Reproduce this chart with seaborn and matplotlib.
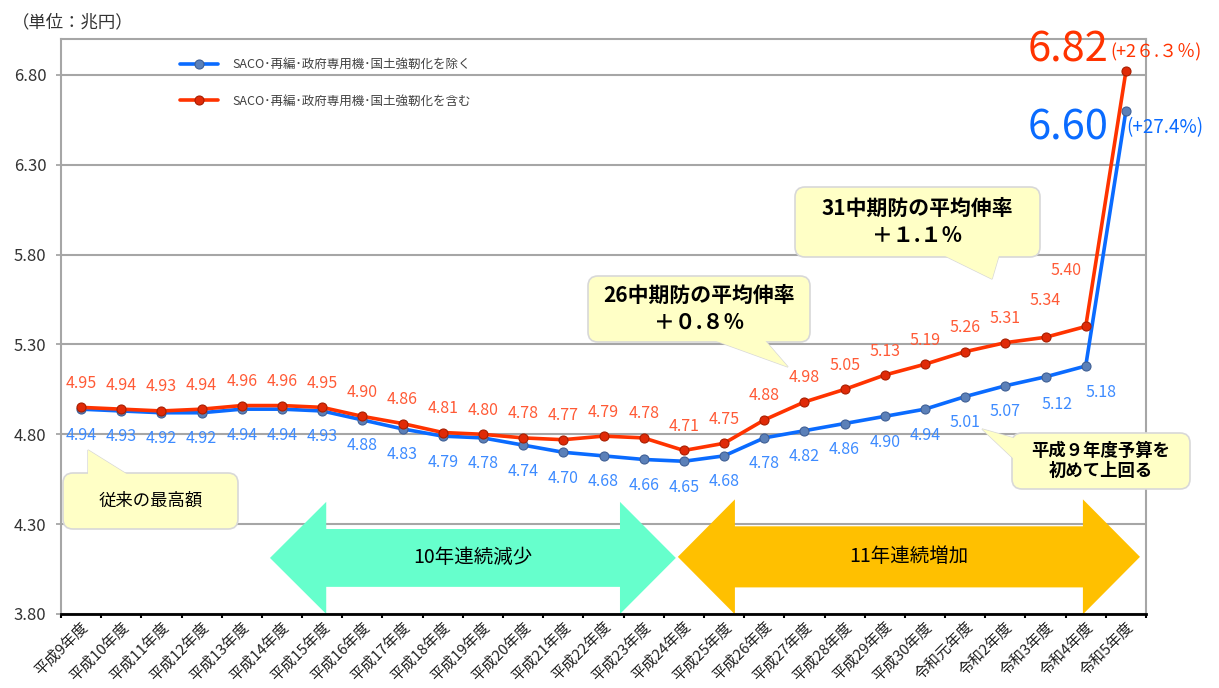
import matplotlib
matplotlib.use('Agg')
import matplotlib.pyplot as plt
from matplotlib.patches import FancyBboxPatch, Polygon
from matplotlib.transforms import IdentityTransform
import seaborn as sns
import pandas as pd
import numpy as np

# data (兆円)
years = ['平成9年度', '平成10年度', '平成11年度', '平成12年度', '平成13年度', '平成14年度',
         '平成15年度', '平成16年度', '平成17年度', '平成18年度', '平成19年度', '平成20年度',
         '平成21年度', '平成22年度', '平成23年度', '平成24年度', '平成25年度', '平成26年度',
         '平成27年度', '平成28年度', '平成29年度', '平成30年度', '令和元年度', '令和2年度',
         '令和3年度', '令和4年度', '令和5年度']
excl = [4.94, 4.93, 4.92, 4.92, 4.94, 4.94, 4.93, 4.88, 4.83, 4.79, 4.78, 4.74, 4.70, 4.68,
        4.66, 4.65, 4.68, 4.78, 4.82, 4.86, 4.90, 4.94, 5.01, 5.07, 5.12, 5.18, 6.60]
incl = [4.95, 4.94, 4.93, 4.94, 4.96, 4.96, 4.95, 4.90, 4.86, 4.81, 4.80, 4.78, 4.77, 4.79,
        4.78, 4.71, 4.75, 4.88, 4.98, 5.05, 5.13, 5.19, 5.26, 5.31, 5.34, 5.40, 6.82]
label_excl = 'SACO･再編･政府専用機･国土強靭化を除く'
label_incl = 'SACO･再編･政府専用機･国土強靭化を含む'

df = pd.DataFrame({'x': np.arange(len(years)), 'year': years, 'excl': excl, 'incl': incl})

W, H = 1219, 688
BLUE = '#0A6BFF'
RED = '#FF3300'
BLUE_TXT = '#3D8BFF'
RED_TXT = '#FF5A36'
BUB = '#FFFFC6'

sns.set_theme(style='white')
plt.rcParams['font.family'] = ['Noto Sans CJK JP', 'DejaVu Sans']

fig = plt.figure(figsize=(W / 100, H / 100), dpi=100)
ax = fig.add_axes([61 / W, 1 - 614 / H, 1085 / W, 575 / H])

sns.lineplot(data=df, x='x', y='excl', color=BLUE, linewidth=2.6, marker='o', markersize=6.5,
             markerfacecolor='#5B80B8', markeredgecolor='#3F5F95', markeredgewidth=0.8,
             label=label_excl, ax=ax, zorder=3)
sns.lineplot(data=df, x='x', y='incl', color=RED, linewidth=2.6, marker='o', markersize=6.5,
             markerfacecolor='#E02A08', markeredgecolor='#A81E00', markeredgewidth=0.8,
             label=label_incl, ax=ax, zorder=4)

ax.set_xlim(-0.5, len(years) - 0.5)
ax.set_ylim(3.8, 7.0)
yt = np.arange(3.8, 6.81, 0.5)
ax.set_yticks(yt)
ax.set_yticklabels([f'{v:.2f}' for v in yt], fontsize=12, color='#333333')
ax.set_xticks(df['x'])
ax.set_xticklabels(years, rotation=45, ha='right', va='top', rotation_mode='anchor',
                   fontsize=10.8, color='#222222')
ax.set_xticks(np.arange(-0.5, len(years), 1), minor=True)
ax.tick_params(axis='x', which='major', length=0, pad=4)
ax.tick_params(axis='x', which='minor', length=3, width=1.5, color='black', bottom=True)
ax.tick_params(axis='y', length=3.6, width=1.2, color='#A0A0A0', left=True, pad=7)
ax.set_xlabel('')
ax.set_ylabel('')
ax.yaxis.grid(True, color='#A6A6A6', linewidth=1.5)
ax.xaxis.grid(False)
for s in ['left', 'top', 'right']:
    ax.spines[s].set_color('#A6A6A6')
    ax.spines[s].set_linewidth(1.5)
ax.spines['bottom'].set_color('black')
ax.spines['bottom'].set_linewidth(2)

# legend
ax.legend(loc='upper left', bbox_to_anchor=(180 / W, 1 - 58 / H), bbox_transform=fig.transFigure,
          frameon=False, fontsize=9, labelspacing=1.9, handlelength=3.0, handletextpad=1.2,
          borderpad=0, borderaxespad=0, labelcolor='#404040')

# data labels
red_off = {24: (0, 37), 25: (-20, 56)}
blue_off = {24: (11, -28), 25: (15, -26)}
for i in range(len(years) - 1):
    dx, dy = red_off.get(i, (0, 24))
    ax.annotate(f'{incl[i]:.2f}', (i, incl[i]), xytext=(dx, dy), textcoords='offset pixels',
                ha='center', va='center', fontsize=11.5, color=RED_TXT, zorder=5)
    dx, dy = blue_off.get(i, (0, -26))
    ax.annotate(f'{excl[i]:.2f}', (i, excl[i]), xytext=(dx, dy), textcoords='offset pixels',
                ha='center', va='center', fontsize=11.5, color=BLUE_TXT, zorder=5)

# last year, big labels
fig.text(1108 / W, 1 - 62 / H, f'{incl[-1]:.2f}', ha='right', va='baseline', fontsize=30, color=RED)
fig.text(1110 / W, 1 - 57 / H, '(+2６.３％)', ha='left', va='baseline', fontsize=13, color=RED)
fig.text(1108 / W, 1 - 140 / H, f'{excl[-1]:.2f}', ha='right', va='baseline', fontsize=30, color=BLUE)
fig.text(1126 / W, 1 - 133 / H, '(+27.4%)', ha='left', va='baseline', fontsize=13.5, color=BLUE)

fig.text(12 / W, 1 - 22 / H, '（単位：兆円）', ha='left', va='center', fontsize=12.5, color='#333333')


# double arrows
def dbl_arrow(x0, x1, x2, x3, yc, bh, hh, color, text):
    pts = [(x0, yc), (x1, yc + hh), (x1, yc + bh), (x2, yc + bh), (x2, yc + hh), (x3, yc),
           (x2, yc - hh), (x2, yc - bh), (x1, yc - bh), (x1, yc - hh)]
    ax.add_patch(Polygon(pts, closed=True, fc=color, ec='none', zorder=2))
    ax.text((x0 + x3) / 2, yc, text, ha='center', va='center', fontsize=14, color='black', zorder=3)


dbl_arrow(4.70, 6.10, 13.41, 14.80, 4.112, 0.161, 0.312, '#66FFCC', '10年連続減少')
dbl_arrow(14.85, 16.27, 24.93, 26.35, 4.118, 0.170, 0.320, '#FFC000', '11年連続増加')


# speech bubbles (pixel coords, y from top)
def bubble(x0, y0, x1, y1, tail, text, size, weight, ls):
    tpts = [(x, H - y) for x, y in tail]
    fig.add_artist(Polygon(tpts, closed=True, fc=BUB, ec='#D8D8D8', lw=1.0,
                           transform=IdentityTransform(), zorder=5))
    fig.add_artist(FancyBboxPatch((x0, H - y1), x1 - x0, y1 - y0,
                                  boxstyle='round,pad=0,rounding_size=10', fc=BUB, ec='#D8D8D8',
                                  lw=1.2, transform=IdentityTransform(), zorder=6))
    fig.add_artist(Polygon(tpts, closed=True, fc=BUB, ec='none',
                           transform=IdentityTransform(), zorder=7))
    fig.text((x0 + x1) / 2 / W, 1 - (y0 + y1) / 2 / H, text, ha='center', va='center',
             fontsize=size, fontweight=weight, linespacing=ls, color='black', zorder=8)


bubble(63, 473, 238, 529, [(88, 478), (88, 450), (133, 478)], '従来の最高額', 12.5, 'normal', 1.2)
bubble(588, 276, 810, 342, [(705, 337), (788, 367), (762, 337)],
       '26中期防の平均伸率\n＋０.８％', 15, 'bold', 1.35)
bubble(795, 187, 1040, 257, [(937, 252), (992, 279), (1000, 252)],
       '31中期防の平均伸率\n＋１.１％', 15, 'bold', 1.35)
bubble(1012, 433, 1190, 489, [(1017, 439), (982, 429), (1017, 462)],
       '平成９年度予算を\n初めて上回る', 12.5, 'bold', 1.15)

fig.savefig('out.png', dpi=100)
